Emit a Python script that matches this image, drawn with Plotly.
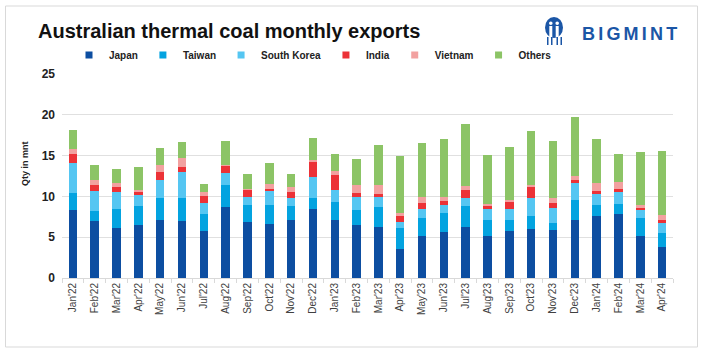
import plotly.graph_objects as go

months = ["Jan'22", "Feb'22", "Mar'22", "Apr'22", "May'22", "Jun'22", "Jul'22", "Aug'22",
          "Sep'22", "Oct'22", "Nov'22", "Dec'22", "Jan'23", "Feb'23", "Mar'23", "Apr'23",
          "May'23", "Jun'23", "Jul'23", "Aug'23", "Sep'23", "Oct'23", "Nov'23", "Dec'23",
          "Jan'24", "Feb'24", "Mar'24", "Apr'24"]

japan = [8.3, 7.0, 6.1, 6.5, 7.15, 7.0, 5.8, 8.75, 6.85, 6.65, 7.15, 8.4,
         7.15, 6.45, 6.3, 3.55, 5.1, 5.65, 6.25, 5.2, 5.8, 6.0, 5.9, 7.15,
         7.65, 7.85, 5.2, 3.75]
taiwan = [2.15, 1.25, 2.3, 2.3, 2.7, 2.75, 2.1, 2.65, 2.05, 2.35, 1.7, 1.35,
          2.2, 1.85, 2.4, 2.55, 2.3, 2.3, 2.6, 1.85, 1.35, 1.6, 0.9, 2.35,
          1.25, 1.2, 2.1, 1.75]
south_korea = [3.7, 2.45, 2.1, 1.4, 2.15, 3.25, 1.35, 1.5, 1.05, 1.65, 0.9, 2.65,
               1.45, 1.6, 1.2, 0.8, 1.1, 1.0, 1.0, 1.45, 1.35, 2.25, 1.8, 2.15,
               1.45, 1.55, 1.0, 1.2]
india = [1.05, 0.7, 0.7, 0.45, 0.95, 0.55, 0.75, 0.85, 0.85, 0.3, 0.8, 1.8,
         1.85, 0.5, 0.45, 0.65, 0.65, 0.45, 0.9, 0.3, 0.85, 1.25, 0.6, 0.3,
         0.35, 0.3, 0.3, 0.4]
vietnam = [0.6, 0.6, 0.5, 0.15, 0.95, 1.2, 0.5, 0.15, 0.1, 0.6, 0.55, 0.3,
           0.5, 0.95, 1.0, 0.4, 0.8, 0.55, 0.55, 0.3, 0.25, 0.35, 0.65, 0.6,
           0.9, 0.9, 0.3, 0.6]
others = [2.3, 1.8, 1.6, 2.8, 2.0, 1.9, 1.0, 2.95, 1.85, 2.5, 1.65, 2.65,
          2.05, 3.25, 4.95, 7.0, 6.55, 7.05, 7.6, 5.95, 6.4, 6.55, 6.95, 7.15,
          5.45, 3.35, 6.6, 7.85]

series = [("Japan", japan, "#0d4ea1"),
          ("Taiwan", taiwan, "#03a3e0"),
          ("South Korea", south_korea, "#55c6f2"),
          ("India", india, "#ec3237"),
          ("Vietnam", vietnam, "#f2a1a0"),
          ("Others", others, "#8cc466")]

FONT = "Liberation Sans, Arial, sans-serif"
W, H = 706, 356
ML, MR, MT, MB = 62, 33, 74, 78
PW, PH = W - ML - MR, H - MT - MB


def px(x):
    return (x - ML) / PW


def py(y):
    return (H - MB - y) / PH


fig = go.Figure()
for name, vals, col in series:
    fig.add_trace(go.Bar(x=months, y=vals, name=name, legendgroup=name, showlegend=False,
                         marker=dict(color=col, line=dict(width=0))))
# legend keys (small squares like the reference)
for name, vals, col in series:
    fig.add_trace(go.Scatter(x=[None], y=[None], name=name, legendgroup=name, mode="markers",
                             marker=dict(symbol="square", size=7, color=col), showlegend=True,
                             hoverinfo="skip"))

shapes = [
    # outer frame
    dict(type="rect", xref="paper", yref="paper", x0=px(5.5), x1=px(697.5),
         y0=py(6), y1=py(347), line=dict(color="#d9d9d9", width=1), layer="below"),
    # logo icon
    dict(type="circle", xref="paper", yref="paper", x0=px(545), x1=px(563),
         y0=py(38), y1=py(17), fillcolor="#1b56a6", line=dict(width=0)),
    dict(type="circle", xref="paper", yref="paper", x0=px(549), x1=px(552.6),
         y0=py(25), y1=py(21.4), fillcolor="white", line=dict(width=0)),
    dict(type="circle", xref="paper", yref="paper", x0=px(555.4), x1=px(559),
         y0=py(25), y1=py(21.4), fillcolor="white", line=dict(width=0)),
    dict(type="rect", xref="paper", yref="paper", x0=px(549.3), x1=px(552.3),
         y0=py(37), y1=py(26), fillcolor="white", line=dict(width=0)),
    dict(type="rect", xref="paper", yref="paper", x0=px(555.7), x1=px(558.7),
         y0=py(37), y1=py(26), fillcolor="white", line=dict(width=0)),
]
for lx in (547, 551, 556.5, 560.5):
    shapes.append(dict(type="rect", xref="paper", yref="paper", x0=px(lx), x1=px(lx + 1.5),
                       y0=py(45), y1=py(37), fillcolor="#1b56a6", line=dict(width=0)))

annotations = [
    dict(text="<b>Qty in mnt</b>", xref="paper", yref="paper", x=px(25), y=py(164),
         showarrow=False, textangle=-90, font=dict(family=FONT, size=9, color="#222"),
         xanchor="center", yanchor="middle"),
    dict(text="<b><span style='letter-spacing:3.2px'>BIGMINT</span></b>", xref="paper", yref="paper",
         x=px(580), y=py(33.5), showarrow=False, xanchor="left", yanchor="middle",
         font=dict(family=FONT, size=18, color="#1b56a6")),
]

fig.update_layout(
    width=W, height=H,
    margin=dict(l=ML, r=MR, t=MT, b=MB),
    paper_bgcolor="white", plot_bgcolor="white",
    barmode="stack", bargap=0.61,
    font=dict(family=FONT, color="#333"),
    title=dict(text="<b>Australian thermal coal monthly exports</b>", x=38 / W, xanchor="left",
               xref="container", y=1 - 31 / H, yanchor="middle", yref="container",
               font=dict(family=FONT, size=20, color="#111")),
    legend=dict(orientation="h", x=px(313), xanchor="center", y=py(55), yanchor="middle",
                font=dict(family=FONT, size=10, color="#222", weight="bold"),
                traceorder="normal", bgcolor="rgba(0,0,0,0)", itemwidth=30),
    xaxis=dict(type="category", tickangle=-90, tickson="boundaries", ticks="outside",
               ticklen=4, tickcolor="#d9d9d9", showline=True, linecolor="#d9d9d9",
               showgrid=False, tickfont=dict(family=FONT, size=10, color="#404040")),
    yaxis=dict(range=[0, 25], dtick=5, gridcolor="#e0e0e0", gridwidth=1, zeroline=False,
               showline=False, ticks="", ticklabelstandoff=6,
               tickfont=dict(family=FONT, size=12, color="#222", weight="bold")),
    shapes=shapes, annotations=annotations,
)

fig.write_html("out.html", config={"displayModeBar": False},
               post_script="document.body.style.margin='0';")
